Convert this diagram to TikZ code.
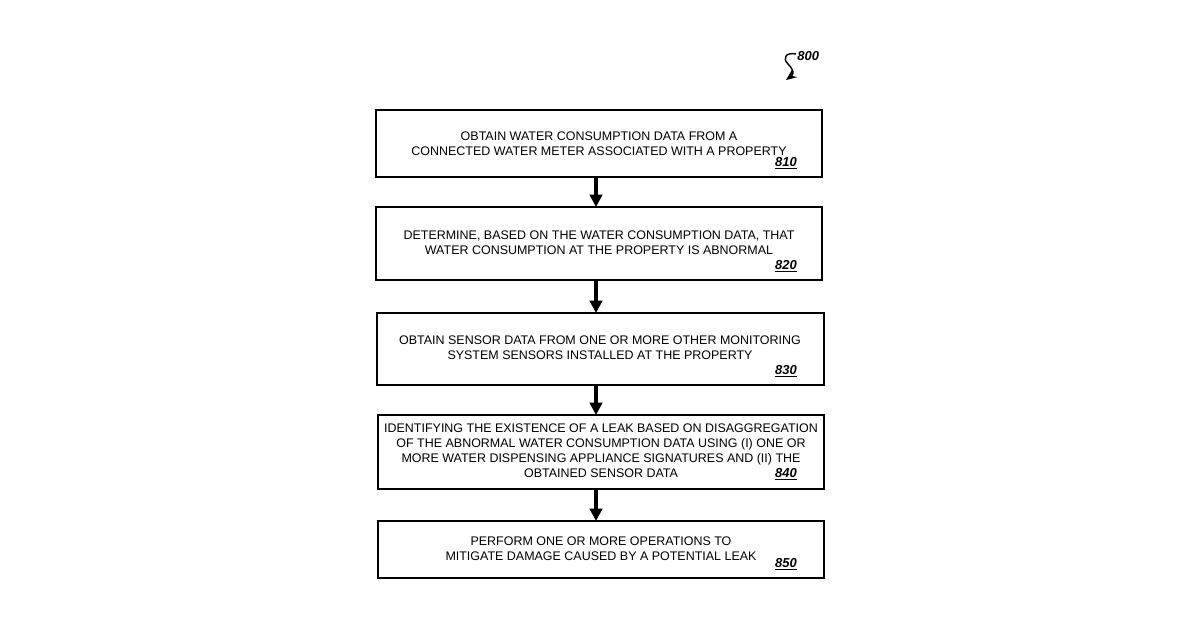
\documentclass[tikz,border=0pt]{standalone}
\usepackage{fontspec}
\setmainfont{Liberation Sans}
\usetikzlibrary{arrows.meta}
\begin{document}
\begin{tikzpicture}[x=0.02cm,y=-0.02cm,
 box/.style={draw,line width=1pt,inner sep=0pt},
 txt/.style={font=\fontsize{7.1}{8.6}\selectfont,align=center},
 lab/.style={font=\fontsize{7.4}{9}\selectfont\bfseries\itshape,anchor=south east},
 arr/.style={-{Triangle[length=7pt,width=7pt]},line width=1.8pt}]
\useasboundingbox (0,0) rectangle (1200,630);
\draw[box] (376,110) rectangle (822,177);
\node[txt] (x1) at (599,144) {OBTAIN WATER CONSUMPTION DATA FROM A\\CONNECTED WATER METER ASSOCIATED WITH A PROPERTY};
\node[lab] (l1) at (803,176) {\underline{810}};
\draw[box] (376,207) rectangle (822,280);
\node[txt] (x2) at (599,243) {DETERMINE, BASED ON THE WATER CONSUMPTION DATA, THAT\\WATER CONSUMPTION AT THE PROPERTY IS ABNORMAL};
\node[lab] (l2) at (803,279) {\underline{820}};
\draw[box] (377,313) rectangle (824,385);
\node[txt] (x3) at (600,348) {OBTAIN SENSOR DATA FROM ONE OR MORE OTHER MONITORING\\SYSTEM SENSORS INSTALLED AT THE PROPERTY};
\node[lab] (l3) at (803,384) {\underline{830}};
\draw[box] (378,415) rectangle (824,489);
\node[txt] (x4) at (601,451) {IDENTIFYING THE EXISTENCE OF A LEAK BASED ON DISAGGREGATION\\OF THE ABNORMAL WATER CONSUMPTION DATA USING (I) ONE OR\\MORE WATER DISPENSING APPLIANCE SIGNATURES AND (II) THE\\OBTAINED SENSOR DATA};
\node[lab] (l4) at (803,487) {\underline{840}};
\draw[box] (378,521) rectangle (824,578);
\node[txt] (x5) at (601,549) {PERFORM ONE OR MORE OPERATIONS TO\\MITIGATE DAMAGE CAUSED BY A POTENTIAL LEAK};
\node[lab] (l5) at (803,577) {\underline{850}};
\coordinate (a1) at (596,177); \coordinate (a1e) at (596,207);
\coordinate (a2) at (596,280); \coordinate (a2e) at (596,313);
\coordinate (a3) at (596,385); \coordinate (a3e) at (596,415);
\coordinate (a4) at (596,489); \coordinate (a4e) at (596,521);
\draw[arr] (a1) -- (a1e);
\draw[arr] (a2) -- (a2e);
\draw[arr] (a3) -- (a3e);
\draw[arr] (a4) -- (a4e);
\node[font=\fontsize{7.4}{9}\selectfont\bfseries\itshape,anchor=west,inner sep=0pt] (n800) at (797,56) {800};
\coordinate (c0) at (796,54); \coordinate (c1) at (786,80);
\draw[line width=0.8pt,-{Stealth[length=6pt,width=5pt]}] (c0) .. controls (786,52) and (782,58) .. (788,64) .. controls (794,70) and (794,74) .. (c1);
\end{tikzpicture}
\end{document}
